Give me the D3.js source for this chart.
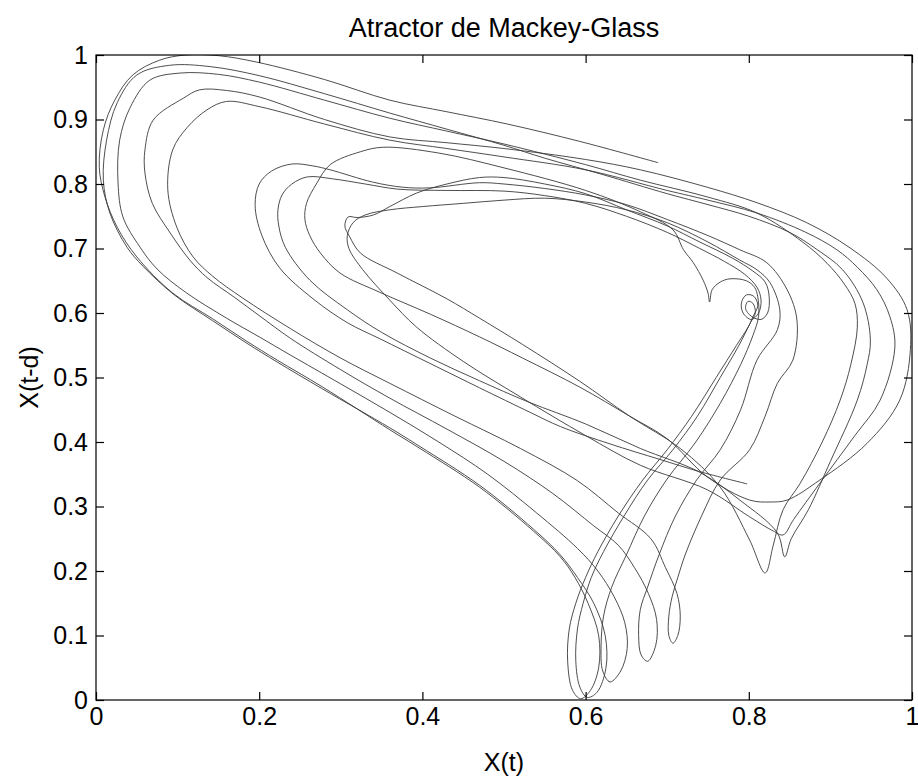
<!DOCTYPE html>
<html>
<head>
<meta charset="utf-8">
<script src="https://cdn.jsdelivr.net/npm/d3@7"></script>
<style>
  body { margin: 0; background: #fff; }
  text { font-family: "Liberation Sans", Arial, Helvetica, sans-serif; fill: #000; }
</style>
</head>
<body>
<div class="container"></div>
<script>
const w = 918;
const h = 782;
const margin = {top: 55, right: 6, bottom: 82, left: 96};

// trayectoria: pares [X(t), X(t-d)], un ciclo por lista
const ciclo1 = [
  [0.689,0.833],[0.593,0.866],[0.504,0.893],[0.43,0.912],[0.36,0.93],[0.28,0.962],[0.197,0.989],[0.15,0.999],[0.11,1.0],
  [0.078,0.992],[0.045,0.969],[0.023,0.93],[0.009,0.884],[0.004,0.826],[0.011,0.78],[0.026,0.733],[0.05,0.687],[0.094,0.631],
  [0.143,0.591],[0.185,0.556],[0.222,0.527],[0.278,0.485],[0.36,0.419],[0.397,0.39],[0.47,0.33],[0.536,0.262],[0.569,0.222],
  [0.587,0.19],[0.603,0.15],[0.616,0.1],[0.616,0.05],[0.606,0.015],[0.594,0.002],[0.584,0.015],[0.578,0.06],[0.58,0.11],
  [0.588,0.15],[0.6,0.19],[0.615,0.23],[0.64,0.285],[0.67,0.341],[0.7,0.388],[0.73,0.44],[0.76,0.5],[0.785,0.55],[0.8,0.58],
  [0.805,0.594],[0.811,0.612],[0.806,0.626],[0.797,0.628],[0.791,0.616],[0.793,0.6],[0.803,0.59],[0.812,0.6],[0.815,0.62],
  [0.81,0.64],[0.795,0.66],[0.77,0.68],[0.74,0.7],[0.7,0.725],[0.65,0.75],[0.6,0.77],[0.55,0.782],[0.5,0.789],[0.43,0.79],
  [0.37,0.792],[0.33,0.8],[0.29,0.808],[0.259,0.811],[0.24,0.8],[0.228,0.783],[0.223,0.76],[0.224,0.735],[0.232,0.702],
  [0.262,0.651],[0.308,0.605],[0.35,0.57],[0.41,0.53],[0.47,0.495],[0.53,0.462],[0.6,0.428],[0.667,0.39],[0.74,0.353],
  [0.789,0.31],[0.835,0.259],[0.844,0.222],[0.852,0.25],[0.873,0.295],[0.9,0.37],[0.933,0.465],[0.945,0.52],[0.949,0.558],
  [0.94,0.616],[0.915,0.667],[0.884,0.698],[0.85,0.725],[0.8,0.75],[0.75,0.768],[0.7,0.785]
];
const ciclo2 = [
  [0.62,0.815],[0.55,0.84],[0.5,0.86],[0.43,0.885],[0.36,0.91],[0.28,0.94],[0.2,0.968],[0.14,0.982],[0.09,0.984],[0.05,0.969],
  [0.026,0.926],[0.013,0.868],[0.009,0.806],[0.017,0.755],[0.038,0.702],[0.058,0.672],[0.096,0.628],[0.143,0.588],[0.185,0.553],
  [0.222,0.524],[0.278,0.482],[0.36,0.422],[0.397,0.393],[0.47,0.333],[0.536,0.265],[0.569,0.225],[0.59,0.19],[0.61,0.15],
  [0.624,0.1],[0.625,0.05],[0.614,0.012],[0.602,0.004],[0.593,0.02],[0.588,0.06],[0.59,0.11],[0.597,0.15],[0.607,0.19],
  [0.622,0.23],[0.647,0.285],[0.676,0.341],[0.707,0.388],[0.737,0.44],[0.765,0.5],[0.788,0.55],[0.802,0.585],[0.808,0.6],
  [0.805,0.615],[0.799,0.618],[0.796,0.607],[0.803,0.595],[0.815,0.59],[0.823,0.6],[0.825,0.625],[0.82,0.648],[0.805,0.665],
  [0.78,0.685],[0.74,0.71],[0.7,0.735],[0.65,0.76],[0.6,0.785],[0.55,0.8],[0.5,0.81],[0.47,0.81],[0.43,0.8],[0.393,0.786],
  [0.36,0.765],[0.34,0.752],[0.32,0.748],[0.309,0.749],[0.305,0.735],[0.311,0.718],[0.324,0.693],[0.369,0.662],[0.43,0.622],
  [0.47,0.592],[0.523,0.551],[0.593,0.494],[0.654,0.44],[0.716,0.39],[0.765,0.33],[0.801,0.248],[0.82,0.197],[0.83,0.24],
  [0.842,0.295],[0.863,0.336],[0.89,0.4],[0.912,0.465],[0.925,0.52],[0.933,0.578],[0.93,0.615],[0.917,0.645],[0.896,0.677],
  [0.866,0.71],[0.81,0.755],[0.749,0.78],[0.667,0.806]
];
const ciclo3 = [
  [0.6,0.83],[0.5,0.862],[0.43,0.882],[0.36,0.902],[0.28,0.93],[0.2,0.958],[0.15,0.97],[0.103,0.972],[0.066,0.961],[0.042,0.919],
  [0.029,0.868],[0.027,0.802],[0.033,0.749],[0.054,0.702],[0.075,0.668],[0.11,0.632],[0.16,0.592],[0.2,0.563],[0.238,0.535],
  [0.3,0.49],[0.36,0.446],[0.42,0.4],[0.48,0.35],[0.54,0.29],[0.59,0.235],[0.615,0.2],[0.635,0.16],[0.648,0.12],[0.651,0.08],
  [0.643,0.045],[0.63,0.028],[0.621,0.045],[0.619,0.085],[0.622,0.13],[0.632,0.175],[0.65,0.225],[0.672,0.285],[0.699,0.341],
  [0.735,0.4],[0.765,0.46],[0.79,0.52],[0.805,0.565],[0.812,0.595],[0.811,0.625],[0.807,0.64],[0.797,0.65],[0.777,0.653],
  [0.765,0.648],[0.755,0.636],[0.752,0.617],[0.75,0.631],[0.744,0.651],[0.732,0.678],[0.72,0.698],[0.707,0.729],[0.667,0.757],
  [0.6,0.79],[0.5,0.825],[0.42,0.848],[0.352,0.857],[0.324,0.85],[0.287,0.83],[0.27,0.8],[0.258,0.77],[0.256,0.745],
  [0.262,0.72],[0.275,0.693],[0.299,0.662],[0.348,0.632],[0.41,0.598],[0.47,0.563],[0.523,0.53],[0.593,0.485],[0.654,0.44],
  [0.7,0.405],[0.749,0.346],[0.801,0.31],[0.826,0.307],[0.847,0.31],[0.887,0.341],[0.945,0.398],[0.985,0.465],[0.998,0.543],
  [0.994,0.605],[0.969,0.654],[0.924,0.701],[0.871,0.74],[0.81,0.771],[0.749,0.795],[0.667,0.822]
];
const ciclo4 = [
  [0.6,0.838],[0.5,0.855],[0.43,0.864],[0.36,0.873],[0.28,0.9],[0.2,0.935],[0.16,0.945],[0.127,0.946],[0.107,0.933],[0.07,0.899],
  [0.06,0.853],[0.06,0.817],[0.069,0.77],[0.091,0.724],[0.115,0.682],[0.136,0.655],[0.17,0.624],[0.2,0.596],[0.238,0.561],
  [0.3,0.512],[0.36,0.468],[0.43,0.42],[0.5,0.37],[0.56,0.32],[0.61,0.27],[0.64,0.24],[0.66,0.205],[0.677,0.165],[0.687,0.125],
  [0.686,0.085],[0.676,0.06],[0.668,0.07],[0.665,0.1],[0.667,0.14],[0.676,0.175],[0.69,0.225],[0.71,0.285],[0.736,0.341],
  [0.765,0.388],[0.79,0.45],[0.81,0.527],[0.835,0.574],[0.838,0.605],[0.826,0.647],[0.81,0.667],[0.789,0.682],[0.75,0.71],
  [0.7,0.74],[0.65,0.76],[0.6,0.772],[0.55,0.778],[0.5,0.775],[0.45,0.77],[0.4,0.765],[0.36,0.76],[0.33,0.752],[0.315,0.74],
  [0.308,0.72],[0.31,0.7],[0.327,0.667],[0.36,0.62],[0.393,0.578],[0.45,0.525],[0.52,0.47],[0.6,0.41],[0.667,0.364],
  [0.749,0.326],[0.801,0.284],[0.83,0.262],[0.842,0.256],[0.855,0.28],[0.887,0.336],[0.93,0.41],[0.961,0.465],[0.979,0.547],
  [0.973,0.594],[0.957,0.636],[0.933,0.671],[0.908,0.698],[0.87,0.725],[0.81,0.755],[0.75,0.775],[0.7,0.79]
];
const ciclo5 = [
  [0.6,0.822],[0.5,0.842],[0.43,0.855],[0.36,0.868],[0.28,0.893],[0.2,0.92],[0.16,0.928],[0.136,0.915],[0.112,0.888],
  [0.094,0.853],[0.088,0.791],[0.099,0.733],[0.119,0.687],[0.143,0.657],[0.18,0.623],[0.238,0.576],[0.3,0.53],[0.36,0.491],
  [0.44,0.44],[0.52,0.39],[0.59,0.34],[0.64,0.29],[0.68,0.25],[0.698,0.205],[0.712,0.165],[0.716,0.13],[0.713,0.1],
  [0.707,0.088],[0.702,0.1],[0.702,0.13],[0.706,0.16],[0.713,0.19],[0.722,0.225],[0.742,0.285],[0.765,0.341],[0.801,0.388],
  [0.82,0.44],[0.835,0.491],[0.854,0.527],[0.859,0.589],[0.847,0.636],[0.822,0.678],[0.789,0.698],[0.75,0.72],[0.7,0.745],
  [0.65,0.768],[0.6,0.783],[0.55,0.793],[0.5,0.8],[0.47,0.802],[0.409,0.794],[0.376,0.795],[0.339,0.803],[0.287,0.822],
  [0.266,0.828],[0.24,0.831],[0.215,0.82],[0.2,0.8],[0.195,0.767],[0.203,0.721],[0.225,0.67],[0.266,0.622],[0.308,0.585],
  [0.348,0.56],[0.409,0.522],[0.47,0.484],[0.532,0.446],[0.569,0.424],[0.63,0.397],[0.691,0.373],[0.74,0.354],[0.798,0.335]
];

const xTicks = [0, 0.2, 0.4, 0.6, 0.8, 1];
const xTickLabels = ["0", "0.2", "0.4", "0.6", "0.8", "1"];
const yTicks = [0, 0.1, 0.2, 0.3, 0.4, 0.5, 0.6, 0.7, 0.8, 0.9, 1];
const yTickLabels = ["0", "0.1", "0.2", "0.3", "0.4", "0.5", "0.6", "0.7", "0.8", "0.9", "1"];

const trayectoria = ciclo1.concat(ciclo2, ciclo3, ciclo4, ciclo5);

const svg = d3.select(".container")
          .append("svg")
          .attr("width", w)
          .attr("height", h);

const xScale = d3.scaleLinear()
                 .domain([0, 1])
                 .range([margin.left, w - margin.right]);

const yScale = d3.scaleLinear()
                 .domain([0, 1])
                 .range([h - margin.bottom, margin.top]);

svg.append("clipPath")
   .attr("id", "area")
   .append("rect")
   .attr("x", margin.left)
   .attr("y", margin.top)
   .attr("width", w - margin.left - margin.right)
   .attr("height", h - margin.top - margin.bottom);

const line = d3.line()
               .x(d => xScale(d[0]))
               .y(d => yScale(d[1]))
               .curve(d3.curveCatmullRom.alpha(0.5));

svg.append("path")
   .datum(trayectoria)
   .attr("clip-path", "url(#area)")
   .attr("fill", "none")
   .attr("stroke", "#3a3a3a")
   .attr("stroke-width", 0.9)
   .attr("d", line);

// ejes estilo matlab: marcas hacia dentro en los cuatro lados
const xAxis = d3.axisBottom(xScale)
                .tickValues(xTicks)
                .tickFormat((d, i) => xTickLabels[i])
                .tickSizeInner(-8).tickSizeOuter(0).tickPadding(7);
svg.append("g")
   .attr("id", "x-axis")
   .attr("transform", "translate(0," + (h - margin.bottom) + ")")
   .call(xAxis);

const yAxis = d3.axisLeft(yScale)
                .tickValues(yTicks)
                .tickFormat((d, i) => yTickLabels[i])
                .tickSizeInner(-8).tickSizeOuter(0).tickPadding(8);
svg.append("g")
   .attr("id", "y-axis")
   .attr("transform", "translate(" + margin.left + ",0)")
   .call(yAxis);

svg.append("g")
   .attr("transform", "translate(0," + margin.top + ")")
   .call(d3.axisTop(xScale).tickValues(xTicks).tickFormat("").tickSizeInner(-8).tickSizeOuter(0));

svg.append("g")
   .attr("transform", "translate(" + (w - margin.right) + ",0)")
   .call(d3.axisRight(yScale).tickValues(yTicks).tickFormat("").tickSizeInner(-8).tickSizeOuter(0));

svg.selectAll(".domain").remove();
svg.selectAll(".tick line").attr("stroke", "#000").attr("stroke-width", 1.2);
svg.selectAll(".tick text")
   .attr("fill", "#000")
   .style("font-size", "25px")
   .style("font-family", "'Liberation Sans', Arial, sans-serif");

svg.append("rect")
   .attr("x", margin.left)
   .attr("y", margin.top)
   .attr("width", w - margin.left - margin.right)
   .attr("height", h - margin.top - margin.bottom)
   .attr("fill", "none")
   .attr("stroke", "#000")
   .attr("stroke-width", 1.2);

svg.append("text")
   .attr("x", (margin.left + w - margin.right) / 2)
   .attr("y", 37)
   .attr("text-anchor", "middle")
   .style("font-size", "27px")
   .text("Atractor de Mackey-Glass");

svg.append("text")
   .attr("x", (margin.left + w - margin.right) / 2)
   .attr("y", 771)
   .attr("text-anchor", "middle")
   .style("font-size", "25px")
   .text("X(t)");

svg.append("text")
   .attr("transform", "translate(38," + ((margin.top + h - margin.bottom) / 2) + ") rotate(-90)")
   .attr("text-anchor", "middle")
   .style("font-size", "25px")
   .text("X(t-d)");
</script>
</body>
</html>
